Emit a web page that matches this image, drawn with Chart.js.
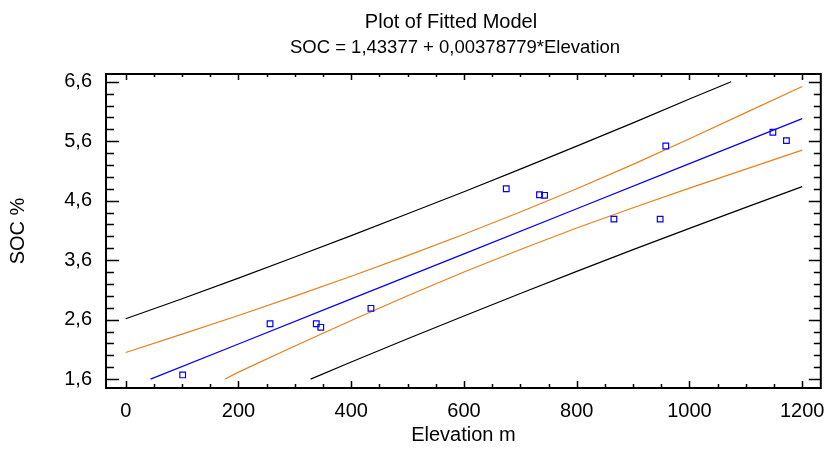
<!DOCTYPE html>
<html>
<head>
<meta charset="utf-8">
<script src="https://cdn.jsdelivr.net/npm/chart.js@4.4.1/dist/chart.umd.min.js"></script>
<style>
  html, body { margin: 0; padding: 0; background: #fff; }
  canvas { display: block; }
</style>
</head>
<body>
<canvas id="chart" width="826" height="449"></canvas>
<script>
// observed samples
const elevation = [101, 256, 338, 346, 435, 675, 734, 743, 866, 948, 958, 1148, 1172];
const soc = [1.67, 2.53, 2.53, 2.47, 2.79, 4.80, 4.70, 4.69, 4.29, 4.29, 5.52, 5.75, 5.61];

// fitted line
const fitElev = [44, 200, 400, 600, 800, 1000, 1200];
const fitSoc = [1.6, 2.191, 2.949, 3.706, 4.464, 5.222, 5.979];

// confidence limits for the mean (orange)
const upperMeanElev = [0, 100, 200, 300, 400, 500, 600, 700, 800, 900, 1000, 1100, 1200];
const upperMeanSoc = [2.047, 2.355, 2.670, 2.995, 3.330, 3.675, 4.035, 4.410, 4.800, 5.210, 5.640, 6.080, 6.520];
const lowerMeanElev = [176, 200, 300, 400, 500, 600, 700, 800, 900, 1000, 1100, 1200];
const lowerMeanSoc = [1.6, 1.717, 2.157, 2.585, 3.0, 3.40, 3.78, 4.14, 4.48, 4.81, 5.13, 5.45];

// prediction limits (black)
const upperPredElev = [0, 100, 200, 300, 400, 500, 600, 700, 800, 900, 1000, 1074];
const upperPredSoc = [2.615, 2.950, 3.298, 3.652, 4.012, 4.379, 4.751, 5.130, 5.517, 5.909, 6.309, 6.6];
const lowerPredElev = [328, 400, 500, 600, 700, 800, 900, 1000, 1100, 1200];
const lowerPredSoc = [1.6, 1.886, 2.277, 2.661, 3.040, 3.411, 3.777, 4.135, 4.487, 4.837];

// axes
const xTicks = [0, 200, 400, 600, 800, 1000, 1200];
const xTickLabels = ['0', '200', '400', '600', '800', '1000', '1200'];
const yTicks = [1.6, 2.6, 3.6, 4.6, 5.6, 6.6];
const yTickLabels = ['1,6', '2,6', '3,6', '4,6', '5,6', '6,6'];

const titleText = 'Plot of Fitted Model';
const subtitleText = 'SOC = 1,43377 + 0,00378779*Elevation';

const FONT = '"Liberation Sans", Arial, sans-serif';

const zip = (xs, ys) => xs.map((x, i) => ({ x: x, y: ys[i] }));

const lineSet = (label, xs, ys, color) => ({
  label: label,
  data: zip(xs, ys),
  showLine: true,
  borderColor: color,
  borderWidth: 1.2,
  pointRadius: 0,
  fill: false,
  tension: 0,
});

// two-line heading, centred a little left of the plot centre like the original
const heading = {
  id: 'heading',
  afterDraw(chart) {
    const ctx = chart.ctx;
    ctx.save();
    ctx.fillStyle = '#000';
    ctx.textAlign = 'center';
    ctx.textBaseline = 'alphabetic';
    ctx.font = '20px ' + FONT;
    ctx.fillText(titleText, 451, 28);
    ctx.font = '18.5px ' + FONT;
    ctx.fillText(subtitleText, 455, 53);
    ctx.restore();
  }
};

// box frame with inward tick marks on all four sides
const frameTicks = {
  id: 'frameTicks',
  afterDraw(chart) {
    const { ctx, chartArea: a, scales: { x, y } } = chart;
    ctx.save();
    ctx.strokeStyle = '#000';
    ctx.lineWidth = 2;
    ctx.strokeRect(a.left, a.top, a.right - a.left, a.bottom - a.top);
    ctx.lineWidth = 1.5;
    ctx.beginPath();
    for (let v = 0; v <= 1200; v += 50) {
      const px = Math.round(x.getPixelForValue(v)) + 0.5;
      const major = v % 200 === 0;
      ctx.moveTo(px, a.bottom);
      ctx.lineTo(px, a.bottom - (major ? 7 : 4));
      ctx.moveTo(px, a.top);
      ctx.lineTo(px, a.top + (major ? 6 : 3));
    }
    for (let k = 0; k <= 25; k++) {
      const v = 1.6 + k * 0.2;
      const py = Math.round(y.getPixelForValue(v)) + 0.5;
      const major = k % 5 === 0;
      ctx.moveTo(a.left, py);
      ctx.lineTo(a.left + (major ? 13 : 8), py);
      ctx.moveTo(a.right, py);
      ctx.lineTo(a.right - (major ? 12 : 7), py);
    }
    ctx.stroke();
    ctx.restore();
  }
};

const ctx = document.getElementById('chart').getContext('2d');

new Chart(ctx, {
  type: 'scatter',
  data: {
    datasets: [
      {
        label: 'SOC',
        data: zip(elevation, soc),
        pointStyle: 'rect',
        pointRadius: 4,
        pointBorderWidth: 1.2,
        pointBorderColor: '#0000ff',
        pointBackgroundColor: 'rgba(0,0,0,0)',
        showLine: false,
      },
      lineSet('Fitted', fitElev, fitSoc, '#0000ff'),
      lineSet('Upper mean', upperMeanElev, upperMeanSoc, '#e8801c'),
      lineSet('Lower mean', lowerMeanElev, lowerMeanSoc, '#e8801c'),
      lineSet('Upper prediction', upperPredElev, upperPredSoc, '#000000'),
      lineSet('Lower prediction', lowerPredElev, lowerPredSoc, '#000000'),
    ]
  },
  options: {
    responsive: false,
    animation: false,
    devicePixelRatio: 1,
    layout: { padding: { top: 74, right: 3, bottom: 0, left: 0 } },
    plugins: {
      legend: { display: false },
      tooltip: { enabled: false },
    },
    scales: {
      x: {
        type: 'linear',
        min: -35,
        max: 1233,
        afterBuildTicks: (scale) => { scale.ticks = xTicks.map(v => ({ value: v })); },
        afterFit: (scale) => {
          scale.height = 61;
          scale.paddingLeft = 0;
          scale.paddingRight = 0;
        },
        grid: { display: false, drawTicks: false },
        border: { display: false },
        ticks: {
          padding: 11,
          color: '#000',
          font: { family: FONT, size: 20 },
          maxRotation: 0,
          callback: (v, i) => xTickLabels[i],
        },
        title: {
          display: true,
          text: 'Elevation m',
          color: '#000',
          font: { family: FONT, size: 20 },
          padding: { top: 0, bottom: 2 },
        },
      },
      y: {
        type: 'linear',
        min: 1.45,
        max: 6.73,
        afterBuildTicks: (scale) => { scale.ticks = yTicks.map(v => ({ value: v })); },
        afterFit: (scale) => {
          scale.width = 106;
          scale.paddingTop = 0;
          scale.paddingBottom = 0;
        },
        grid: { display: false, drawTicks: false },
        border: { display: false },
        ticks: {
          padding: 14,
          color: '#000',
          font: { family: FONT, size: 20 },
          callback: (v, i) => yTickLabels[i],
        },
        title: {
          display: true,
          text: 'SOC %',
          color: '#000',
          font: { family: FONT, size: 20 },
          padding: { top: 6, bottom: 0 },
        },
      },
    },
  },
  plugins: [frameTicks, heading],
});
</script>
</body>
</html>
